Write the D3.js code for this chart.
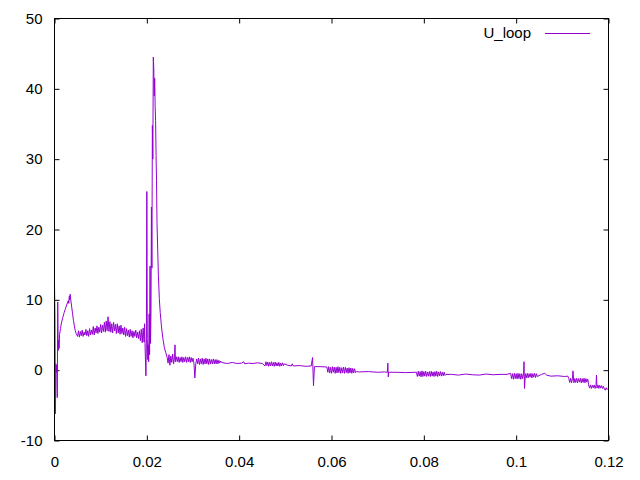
<!DOCTYPE html>
<html>
<head>
<meta charset="utf-8">
<script src="https://cdn.jsdelivr.net/npm/d3@7"></script>
<style>
  html, body { margin: 0; padding: 0; background: #fff; }
  svg { display: block; font-family: "Liberation Sans", Arial, sans-serif; }
</style>
</head>
<body>
<svg id="chart" width="640" height="480"></svg>
<script>
// ---- data ----
const seriesName = "U_loop";
const xTicks = [0, 0.02, 0.04, 0.06, 0.08, 0.1, 0.12];
const yTicks = [-10, 0, 10, 20, 30, 40, 50];
const xDomain = [0, 0.12];
const yDomain = [-10, 50];

// [time, U_loop]
const U_loop = [
  [0.0000, 12.2], [0.0001, 7.5], [0.0002, -6.2], [0.0003, 0.9], [0.0004, -0.3],
  [0.0005, 0.7], [0.0006, -3.9], [0.0007, 9.7], [0.0008, 2.8], [0.0009, 4.3],
  [0.0010, 3.1], [0.0011, 5.1], [0.0013, 5.9], [0.0015, 6.7], [0.0018, 7.5],
  [0.0021, 8.2], [0.0024, 8.8], [0.0027, 9.4], [0.0030, 9.9], [0.0031, 9.5],
  [0.0032, 10.5], [0.0033, 10.0], [0.0034, 10.8], [0.0035, 10.1], [0.0037, 9.1],
  [0.0039, 8.1], [0.0041, 7.1], [0.0043, 6.3], [0.0045, 5.6], [0.0047, 5.2],
  // band around 5-6
  [0.0050, 4.8], [0.0052, 5.6], [0.0054, 4.7], [0.0056, 5.5], [0.0058, 4.9],
  [0.0060, 5.7], [0.0062, 4.8], [0.0064, 5.4], [0.0066, 5.0], [0.0068, 5.8],
  [0.0070, 4.9], [0.0072, 5.6], [0.0074, 4.8], [0.0076, 5.9], [0.0078, 5.0],
  [0.0080, 5.7], [0.0082, 5.1], [0.0084, 6.2], [0.0086, 5.0], [0.0088, 6.0],
  [0.0090, 5.3], [0.0092, 6.3], [0.0094, 5.2], [0.0096, 6.1], [0.0098, 5.4],
  [0.0100, 6.5], [0.0102, 5.3], [0.0104, 6.4], [0.0106, 5.5], [0.0108, 6.8],
  [0.0110, 5.4], [0.0112, 7.0], [0.0114, 5.6], [0.0116, 7.6], [0.0118, 5.5],
  [0.0120, 6.9], [0.0122, 5.4], [0.0124, 6.6], [0.0126, 5.3], [0.0128, 6.8],
  [0.0130, 5.6], [0.0132, 6.5], [0.0134, 5.2], [0.0136, 6.6], [0.0138, 5.3],
  [0.0140, 6.3], [0.0142, 5.1], [0.0144, 6.4], [0.0146, 5.2], [0.0148, 6.0],
  [0.0150, 5.0], [0.0152, 6.1], [0.0154, 4.8], [0.0156, 5.9], [0.0158, 4.9],
  [0.0160, 5.7], [0.0162, 4.7], [0.0164, 5.8], [0.0166, 4.8], [0.0168, 5.6],
  [0.0170, 4.6], [0.0172, 5.5], [0.0174, 4.8], [0.0176, 5.7], [0.0178, 4.6],
  [0.0180, 5.4], [0.0182, 4.5], [0.0184, 5.6], [0.0186, 4.2], [0.0188, 5.8],
  [0.0190, 3.9], [0.0192, 6.0], [0.0194, 4.0], [0.0195, 6.6],
  // main spike
  [0.0196, 3.8], [0.0198, -0.8], [0.0199, 4.0], [0.0200, 25.4], [0.0201, 4.5],
  [0.0202, 1.5], [0.0203, 3.6], [0.0204, 1.2], [0.0205, 8.0], [0.0206, 2.2],
  [0.0207, 14.8], [0.0208, 3.8], [0.0209, 8.5], [0.0210, 23.2], [0.0211, 14.5],
  [0.0212, 34.8], [0.0213, 30.0], [0.0214, 44.5], [0.0215, 43.0], [0.0216, 39.0],
  [0.0217, 41.5], [0.0218, 37.5], [0.0219, 35.5], [0.0220, 30.5], [0.0221, 27.0],
  [0.0222, 21.0], [0.0223, 18.5], [0.0225, 13.5], [0.0227, 10.2], [0.0229, 8.2],
  [0.0232, 6.0], [0.0235, 4.4], [0.0238, 3.2], [0.0241, 2.5], [0.0244, 1.8],
  // band around 1-2
  [0.0246, 1.0], [0.0248, 2.2], [0.0250, 0.7], [0.0252, 2.0], [0.0254, 1.1],
  [0.0256, 2.3], [0.0258, 0.9], [0.0260, 1.9], [0.0261, 3.6], [0.0262, 1.2],
  [0.0264, 1.9], [0.0266, 1.2], [0.0268, 1.9], [0.0270, 1.1], [0.0272, 1.8],
  [0.0274, 1.2], [0.0276, 1.9], [0.0278, 1.1], [0.0280, 1.8], [0.0282, 1.2],
  [0.0284, 1.9], [0.0286, 1.1], [0.0288, 1.8], [0.0290, 1.2], [0.0292, 1.9],
  [0.0294, 1.1], [0.0296, 1.8], [0.0298, 1.2], [0.0300, 1.7], [0.0302, 1.0],
  [0.0304, -1.1], [0.0306, 0.9], [0.0308, 1.6], [0.0310, 0.9], [0.0312, 1.7],
  [0.0314, 0.8], [0.0316, 1.6], [0.0318, 0.9], [0.0320, 1.7], [0.0322, 0.8],
  [0.0324, 1.6], [0.0326, 0.9], [0.0328, 1.7], [0.0330, 0.9], [0.0332, 1.6],
  [0.0334, 0.8], [0.0336, 1.6], [0.0338, 0.9], [0.0340, 1.5], [0.0342, 0.9],
  [0.0344, 1.6], [0.0346, 0.9], [0.0348, 1.5], [0.0350, 0.9], [0.0352, 1.5],
  [0.0354, 0.9], [0.0356, 1.4], [0.0358, 1.0], [0.0360, 1.3], [0.0362, 1.1],
  // thin ~1
  [0.0365, 1.05], [0.0375, 0.95], [0.0385, 1.1], [0.0395, 0.95], [0.0405, 1.0],
  [0.0410, 1.2], [0.0412, 0.9], [0.0420, 1.0], [0.0430, 0.95], [0.0440, 1.05],
  [0.0450, 0.95],
  // band ~0.6-1.2
  [0.0456, 0.6], [0.0458, 1.2], [0.0460, 0.65], [0.0462, 1.15], [0.0464, 0.55],
  [0.0466, 1.1], [0.0468, 0.6], [0.0470, 1.2], [0.0472, 0.6], [0.0474, 1.1],
  [0.0476, 0.55], [0.0478, 1.15], [0.0480, 0.6], [0.0482, 1.05], [0.0484, 0.6],
  [0.0486, 1.1], [0.0488, 0.55], [0.0490, 1.0], [0.0492, 0.6], [0.0494, 1.05],
  [0.0496, 0.65], [0.0498, 0.9],
  // thin ~0.6, spike at 0.056
  [0.0505, 0.7], [0.0513, 0.6], [0.0515, 0.9], [0.0517, 0.6], [0.0530, 0.65],
  [0.0545, 0.55], [0.0556, 0.6], [0.0559, 1.8], [0.0561, -2.2], [0.0563, 0.5],
  [0.0575, 0.5], [0.0590, 0.45],
  // band ~0
  [0.0592, -0.3], [0.0594, 0.5], [0.0596, -0.4], [0.0598, 0.4], [0.0600, -0.45],
  [0.0602, 0.5], [0.0604, -0.3], [0.0606, 0.45], [0.0608, -0.45], [0.0610, 0.4],
  [0.0612, -0.4], [0.0614, 0.5], [0.0616, -0.35], [0.0618, 0.4], [0.0620, -0.45],
  [0.0622, 0.35], [0.0624, -0.4], [0.0626, 0.45], [0.0628, -0.45], [0.0630, 0.4],
  [0.0632, -0.35], [0.0634, 0.3], [0.0636, -0.45], [0.0638, 0.35], [0.0640, -0.4],
  [0.0642, 0.3], [0.0644, -0.45], [0.0646, 0.25], [0.0648, -0.4], [0.0650, 0.2],
  [0.0652, -0.35], [0.0654, -0.2],
  // thin ~-0.3
  [0.0660, -0.25], [0.0680, -0.2], [0.0700, -0.3], [0.0715, -0.25], [0.0721, -0.3],
  [0.0722, 1.0], [0.0723, -0.95], [0.0724, -0.3], [0.0740, -0.3], [0.0760, -0.35],
  [0.0784, -0.3],
  // band ~-0.5
  [0.0786, -0.9], [0.0788, -0.15], [0.0790, -0.85], [0.0792, -0.2], [0.0794, -0.95],
  [0.0796, -0.1], [0.0798, -0.9], [0.0800, -0.2], [0.0802, -0.85], [0.0804, -0.15],
  [0.0806, -0.9], [0.0808, -0.25], [0.0810, -0.85], [0.0812, -0.2], [0.0814, -0.9],
  [0.0816, -0.15], [0.0818, -0.85], [0.0820, -0.25], [0.0822, -0.9], [0.0824, -0.2],
  [0.0826, -0.85], [0.0828, -0.15], [0.0830, -0.9], [0.0832, -0.25], [0.0834, -0.8],
  [0.0836, -0.2], [0.0838, -0.85], [0.0840, -0.3], [0.0842, -0.8], [0.0844, -0.3],
  [0.0846, -0.75], [0.0848, -0.6],
  // thin ~-0.6
  [0.0860, -0.6], [0.0875, -0.7], [0.0890, -0.55], [0.0905, -0.65], [0.0920, -0.7],
  [0.0935, -0.55], [0.0950, -0.65], [0.0965, -0.6], [0.0980, -0.6],
  // band ~-0.9, spike at 0.1018
  [0.0988, -0.45], [0.0990, -1.2], [0.0992, -0.5], [0.0994, -1.3], [0.0996, -0.45],
  [0.0998, -1.2], [0.1000, -0.5], [0.1002, -1.25], [0.1004, -0.45], [0.1006, -1.2],
  [0.1008, -0.5], [0.1010, -1.3], [0.1012, -0.5], [0.1014, -1.2], [0.1016, -0.5],
  [0.1017, 1.2], [0.1018, -2.6], [0.1020, -0.5], [0.1022, -1.1], [0.1024, -0.45],
  [0.1026, -1.1], [0.1028, -0.5], [0.1030, -1.0], [0.1032, -0.45], [0.1034, -1.1],
  [0.1036, -0.5], [0.1038, -1.0], [0.1040, -0.45], [0.1042, -1.05], [0.1044, -0.5],
  [0.1046, -0.9],
  // thin ~-0.8
  [0.1055, -0.6], [0.1062, -0.45], [0.1066, -0.7], [0.1075, -0.85], [0.1090, -0.8],
  [0.1105, -0.9], [0.1112, -0.85],
  // band ~-1.5
  [0.1114, -1.2], [0.1116, -1.75], [0.1118, -1.15], [0.1120, -1.8], [0.1122, -1.2],
  [0.1123, -0.1], [0.1125, -1.8], [0.1127, -1.2], [0.1129, -1.75], [0.1131, -1.15],
  [0.1133, -1.8], [0.1135, -1.2], [0.1137, -1.7], [0.1139, -1.15], [0.1141, -1.8],
  [0.1143, -1.2], [0.1145, -1.75], [0.1147, -1.15], [0.1149, -1.8], [0.1151, -1.2],
  [0.1153, -1.7], [0.1155, -1.25],
  // band ~-2.3
  [0.1157, -2.1], [0.1159, -2.55], [0.1161, -2.1], [0.1163, -2.6], [0.1165, -2.15],
  [0.1167, -2.5], [0.1169, -2.1], [0.1171, -2.6], [0.1173, -2.15], [0.1174, -0.7],
  [0.1175, -2.55], [0.1177, -2.1], [0.1179, -2.6], [0.1181, -2.15], [0.1183, -2.55],
  [0.1185, -2.2], [0.1187, -2.6], [0.1189, -2.3], [0.1191, -2.7], [0.1193, -2.85],
  [0.1195, -2.5], [0.1197, -2.75], [0.1199, -2.6]
];

// ---- layout ----
const plotLeft = 54.5, plotRight = 608.5, plotTop = 18.5, plotBottom = 440.5;
const lineColor = "#9400d3";
const fontSize = 15;

const svg = d3.select("#chart");
const x = d3.scaleLinear().domain(xDomain).range([plotLeft, plotRight]);
const y = d3.scaleLinear().domain(yDomain).range([plotBottom, plotTop]);

// clip
svg.append("defs").append("clipPath").attr("id", "clip")
  .append("rect").attr("x", plotLeft).attr("y", plotTop)
  .attr("width", plotRight - plotLeft).attr("height", plotBottom - plotTop);

// axes (gnuplot style: inward ticks, mirrored)
const tickLen = 5;
const gx = svg.append("g").attr("transform", `translate(0,${plotBottom})`)
  .call(d3.axisBottom(x).tickValues(xTicks).tickSize(-tickLen).tickPadding(16)
    .tickFormat(d => String(d)));
const gxTop = svg.append("g").attr("transform", `translate(0,${plotTop})`)
  .call(d3.axisTop(x).tickValues(xTicks).tickSize(-tickLen).tickFormat(""));
const gy = svg.append("g").attr("transform", `translate(${plotLeft},0)`)
  .call(d3.axisLeft(y).tickValues(yTicks).tickSize(-tickLen).tickPadding(12)
    .tickFormat(d => String(d)));
const gyRight = svg.append("g").attr("transform", `translate(${plotRight},0)`)
  .call(d3.axisRight(y).tickValues(yTicks).tickSize(-tickLen).tickFormat(""));

[gx, gxTop, gy, gyRight].forEach(g => {
  g.select(".domain").remove();
  g.selectAll(".tick line").attr("stroke", "#000").attr("stroke-width", 1);
  g.selectAll("text").attr("fill", "#000")
    .style("font-size", fontSize + "px")
    .style("font-family", '"Liberation Sans", Arial, sans-serif');
});

// series
const line = d3.line().x(d => x(d[0])).y(d => y(d[1]));
svg.append("path")
  .datum(U_loop)
  .attr("clip-path", "url(#clip)")
  .attr("fill", "none")
  .attr("stroke", lineColor)
  .attr("stroke-width", 1)
  .attr("d", line);

// frame
svg.append("rect")
  .attr("x", plotLeft).attr("y", plotTop)
  .attr("width", plotRight - plotLeft).attr("height", plotBottom - plotTop)
  .attr("fill", "none").attr("stroke", "#000").attr("stroke-width", 1);

// legend
const legend = svg.append("g");
legend.append("text")
  .attr("x", 531).attr("y", 38)
  .attr("text-anchor", "end")
  .style("font-size", fontSize + "px")
  .attr("fill", "#000")
  .text(seriesName);
legend.append("line")
  .attr("x1", 545).attr("x2", 590)
  .attr("y1", 33.5).attr("y2", 33.5)
  .attr("stroke", lineColor).attr("stroke-width", 1);
</script>
</body>
</html>
